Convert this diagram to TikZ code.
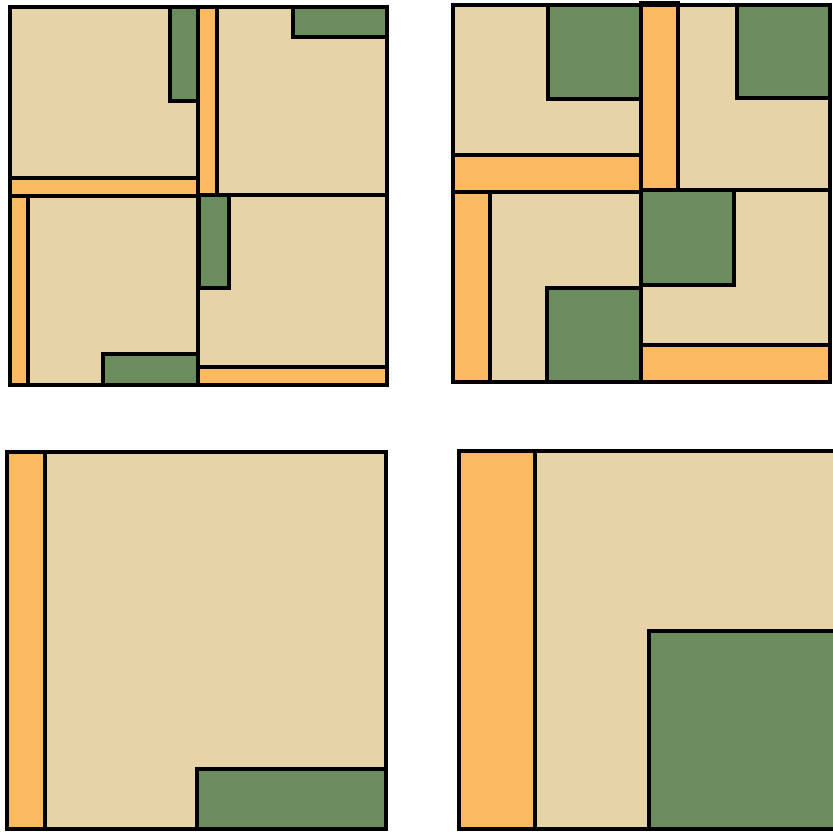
\documentclass[tikz,border=0pt]{standalone}
\definecolor{beigec}{RGB}{230,211,168}
\definecolor{orangec}{RGB}{251,185,98}
\definecolor{greenc}{RGB}{107,140,92}
\tikzset{
  bg/.style={fill=beigec,draw=black,line width=3.6pt},
  orng/.style={fill=orangec,draw=black,line width=3.6pt},
  grn/.style={fill=greenc,draw=black,line width=3.6pt},
  frame/.style={draw=black,line width=3.6pt}
}
\begin{document}
\begin{tikzpicture}[x=1pt,y=-1pt]
\useasboundingbox (0,0) rectangle (833,832);
\clip (0,0) rectangle (833,832);
% ---------- top-left panel ----------
\draw[bg] (10,7) rectangle (198,178);
\draw[grn] (170,7) rectangle (198,101);
\draw[orng] (10,178) rectangle (198,196);
\draw[bg] (217,7) rectangle (387,195);
\draw[grn] (293,7) rectangle (387,37);
\draw[orng] (198,7) rectangle (217,196);
\draw[bg] (28,196) rectangle (198,385);
\draw[grn] (103,354) rectangle (198,385);
\draw[orng] (10,196) rectangle (28,385);
\draw[bg] (198,195) rectangle (387,367);
\draw[grn] (199,195) rectangle (229,288);
\draw[orng] (198,367) rectangle (387,385);
\draw[frame] (10,7) rectangle (387,385);
% ---------- top-right panel ----------
\draw[bg] (453,5) rectangle (641,155);
\draw[grn] (548,5) rectangle (641,99);
\draw[orng] (453,155) rectangle (641,192);
\draw[bg] (678,5) rectangle (830,190);
\draw[grn] (737,5) rectangle (830,98);
\draw[orng] (641,3) rectangle (678,190);
\draw[bg] (490,192) rectangle (641,382);
\draw[grn] (547,288) rectangle (641,382);
\draw[orng] (453,192) rectangle (490,382);
\draw[bg] (641,190) rectangle (830,345);
\draw[grn] (641,190) rectangle (734,285);
\draw[orng] (641,345) rectangle (830,382);
\draw[frame] (453,5) rectangle (830,382);
% ---------- bottom-left panel ----------
\draw[bg] (7,452) rectangle (386,829);
\draw[orng] (7,452) rectangle (45,829);
\draw[grn] (197,769) rectangle (386,829);
\draw[frame] (7,452) rectangle (386,829);
% ---------- bottom-right panel ----------
\draw[bg] (459,451) rectangle (850,829);
\draw[orng] (459,451) rectangle (535,829);
\draw[grn] (649,631) rectangle (850,829);
\draw[frame] (459,451) rectangle (850,829);
\end{tikzpicture}
\end{document}
